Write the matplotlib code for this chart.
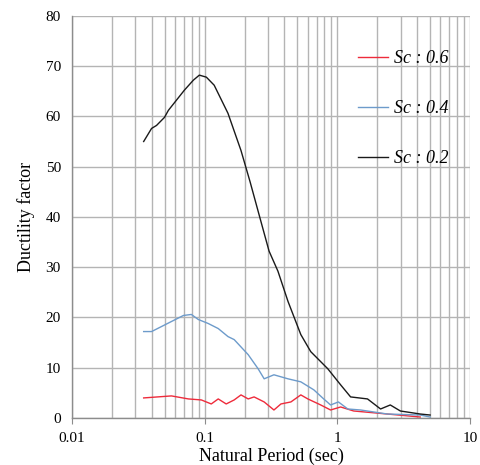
import numpy as np
import matplotlib.pyplot as plt

plt.rcParams['font.family'] = ['Liberation Serif', 'DejaVu Serif']

# Sc : 0.2 (black)
t_02 = [0.0347, 0.0398, 0.0434, 0.0498, 0.0533, 0.0612, 0.0703, 0.0822, 0.0912,
        0.103, 0.118, 0.150, 0.188, 0.22, 0.26, 0.306, 0.357, 0.425, 0.531,
        0.631, 0.848, 1.06, 1.26, 1.69, 2.12, 2.51, 2.99, 4.22, 5.01]
mu_02 = [55.0, 57.6, 58.2, 59.8, 61.2, 63.2, 65.2, 67.2, 68.2,
         67.8, 66.2, 60.6, 53.2, 47.0, 40.0, 33.2, 29.2, 23.2, 16.6,
         13.2, 9.8, 6.6, 4.2, 3.8, 1.8, 2.6, 1.4, 0.8, 0.6]

# Sc : 0.4 (blue)
t_04 = [0.0347, 0.0398, 0.0473, 0.0562, 0.0692, 0.0794, 0.0896, 0.1065, 0.1266,
        0.150, 0.167, 0.213, 0.253, 0.281, 0.333, 0.425, 0.531, 0.666, 0.79,
        0.89, 1.02, 1.20, 1.50, 2.38, 4.22, 5.01]
mu_04 = [17.2, 17.2, 18.2, 19.2, 20.4, 20.6, 19.6, 18.8, 17.8,
         16.2, 15.6, 12.6, 9.8, 7.8, 8.6, 7.8, 7.2, 5.6, 3.8,
         2.6, 3.2, 1.8, 1.6, 0.8, 0.6, 0.2]

# Sc : 0.6 (red)
t_06 = [0.0347, 0.0562, 0.0754, 0.0944, 0.1122, 0.1266, 0.1454, 0.167, 0.188,
        0.213, 0.236, 0.281, 0.333, 0.376, 0.447, 0.531, 0.60, 0.75, 0.89,
        1.06, 1.33, 2.38, 4.22]
mu_06 = [4.0, 4.4, 3.8, 3.6, 2.8, 3.8, 2.8, 3.6, 4.6,
         3.8, 4.2, 3.2, 1.6, 2.8, 3.2, 4.6, 3.8, 2.6, 1.6,
         2.2, 1.4, 0.8, 0.2]

fig = plt.figure(figsize=(4.8, 4.65), dpi=100)
ax = fig.add_axes([0.15, 0.101, 0.829, 0.865])

ax.plot(t_06, mu_06, color='#ee2b3b', lw=1.0, label='Sc : 0.6')
ax.plot(t_04, mu_04, color='#6d9bcb', lw=1.0, label='Sc : 0.4')
ax.plot(t_02, mu_02, color='#1a1a1a', lw=1.0, label='Sc : 0.2')

ax.set_xscale('log')
ax.set_xlim(0.01, 10)
ax.set_ylim(0, 80)
ax.set_yticks(np.arange(0, 81, 10))
ax.set_xticks([0.01, 0.1, 1, 10])
ax.set_xticklabels(['0.01', '0.1', '1', '10'])

ax.grid(True, which='major', axis='both', color='#b4b4b4', lw=1.0)
ax.grid(True, which='minor', axis='x', color='#b4b4b4', lw=1.0)
ax.set_axisbelow(True)

for s in ['top', 'right']:
    ax.spines[s].set_visible(False)
for s in ['left', 'bottom']:
    ax.spines[s].set_color('#8c8c8c')
    ax.spines[s].set_linewidth(1.0)

ax.tick_params(axis='x', which='major', length=4, color='#8c8c8c', labelsize=11, pad=6)
ax.tick_params(axis='x', which='minor', length=0)
ax.tick_params(axis='y', length=0, labelsize=11, pad=8)

ax.set_xlabel('Natural Period (sec)', fontsize=13, labelpad=2)
ax.set_ylabel('Ductility factor', fontsize=13, labelpad=8)

leg = ax.legend(loc='upper left', bbox_to_anchor=(0.677, 0.955), frameon=False,
                labelspacing=1.83, handlelength=1.7, handletextpad=0.3,
                prop={'style': 'italic', 'size': 13})

fig.savefig('out.png', dpi=100)
